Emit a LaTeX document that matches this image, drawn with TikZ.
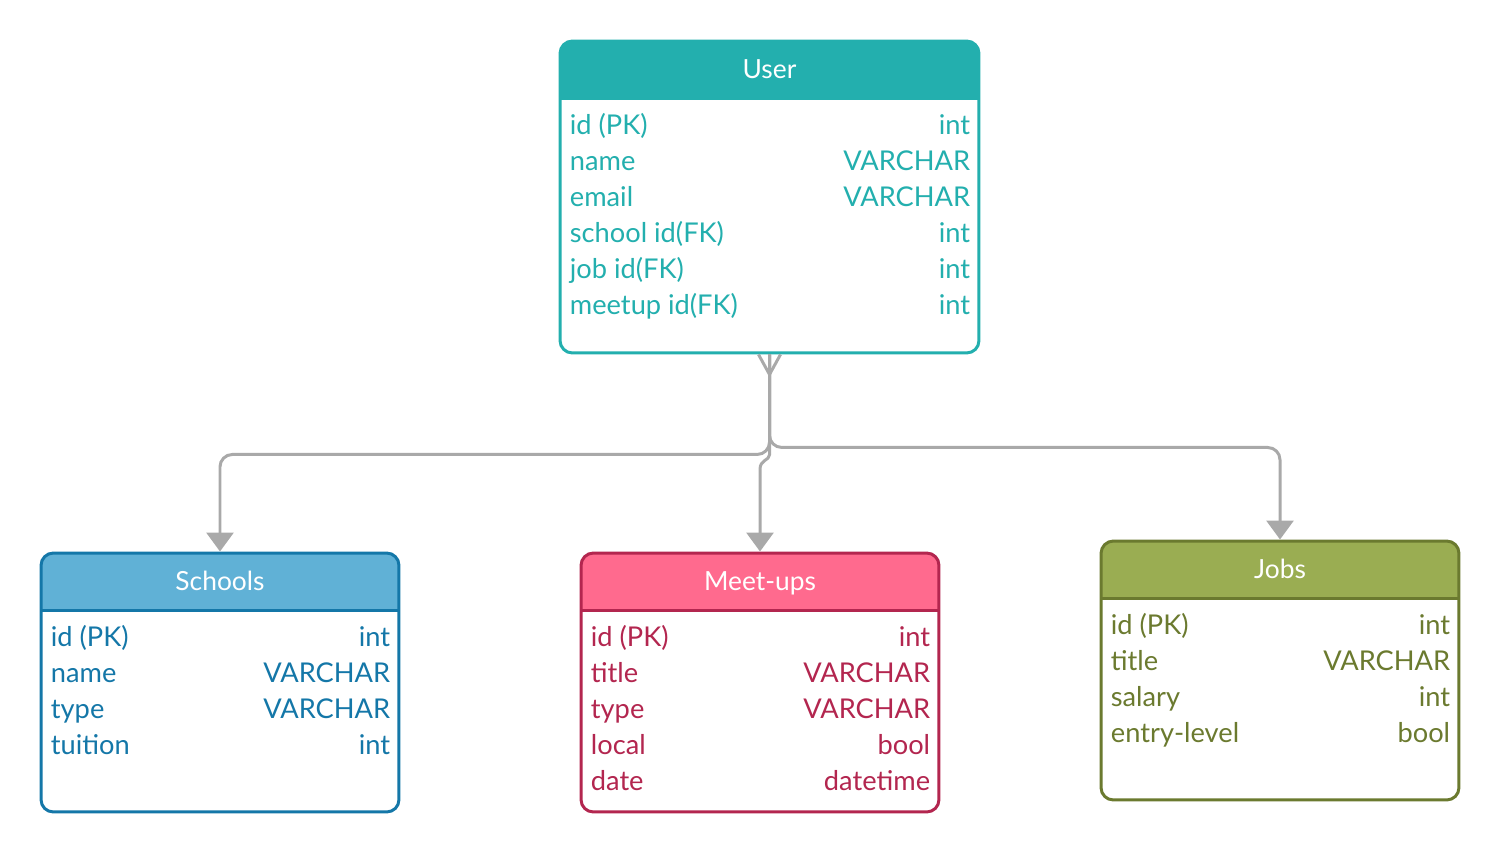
\documentclass[tikz,border=0pt]{standalone}
\usepackage{fontspec}
\setmainfont{Lato}
\usepackage{tikz}
\usetikzlibrary{arrows.meta,calc,positioning}

\definecolor{userteal}{HTML}{23AFAE}
\definecolor{schoolline}{HTML}{1477A8}
\definecolor{schoolhead}{HTML}{60B1D6}
\definecolor{meetline}{HTML}{B3264F}
\definecolor{meethead}{HTML}{FF6A8E}
\definecolor{jobline}{HTML}{6B7A2F}
\definecolor{jobhead}{HTML}{9AAD52}
\definecolor{linkgray}{HTML}{A9A9A9}

\tikzset{
	entity/.style n args={4}{draw=#1, line width=1.7pt, rounded corners=7pt, fill=white,
		minimum width=#3, minimum height=#4, inner sep=0pt,
		path picture={
			\fill[#2, sharp corners] (path picture bounding box.north west) rectangle ([yshift=-1.14cm]path picture bounding box.north east);
			\draw[#1, line width=1.7pt, sharp corners] ([yshift=-1.14cm]path picture bounding box.north west) -- ([yshift=-1.14cm]path picture bounding box.north east);
		}},
	title/.style={text=white, font=\fontsize{15}{17}\selectfont, text height=10.8pt, text depth=0pt, inner sep=0pt},
	field/.style={text=#1, font=\fontsize{15.5}{18}\selectfont, text height=11pt, text depth=0pt, inner sep=0pt},
	link/.style={draw=linkgray, line width=1.7pt, rounded corners=7pt},
}

\begin{document}
\begin{tikzpicture}[x=0.02cm,y=-0.02cm,>={Triangle[length=0.38cm,width=0.54cm]}]
	\useasboundingbox (0,0) rectangle (1500,853);

	% tables
	\node[entity={userteal}{userteal}{8.38cm}{6.24cm}] (user) at (769.5,197) {};
	\node[entity={schoolline}{schoolhead}{7.16cm}{5.18cm}] (schools) at (220,682.5) {};
	\node[entity={meetline}{meethead}{7.16cm}{5.18cm}] (meetups) at (760,682.5) {};
	\node[entity={jobline}{jobhead}{7.16cm}{5.18cm}] (jobs) at (1280,670.5) {};

	\node[title] (user-title) at ([yshift=-0.58cm]user.north) {User};
	\node[title] (schools-title) at ([yshift=-0.58cm]schools.north) {Schools};
	\node[title] (meetups-title) at ([yshift=-0.58cm]meetups.north) {Meet-ups};
	\node[title] (jobs-title) at ([yshift=-0.58cm]jobs.north) {Jobs};

	% fields
	\foreach \fname/\ftype [count=\i] in {id (PK)/int, name/VARCHAR, email/VARCHAR, school id(FK)/int, job id(FK)/int, meetup id(FK)/int} {
		\node[field=userteal, anchor=west] (user-n\i) at ($(user.north west)+(11,85+36*\i-36)$) {\fname};
		\node[field=userteal, anchor=east] (user-t\i) at ($(user.north east)+(-10,85+36*\i-36)$) {\ftype};
	}
	\foreach \fname/\ftype [count=\i] in {id (PK)/int, name/VARCHAR, type/VARCHAR, tuition/int} {
		\node[field=schoolline, anchor=west] (schools-n\i) at ($(schools.north west)+(11,85+36*\i-36)$) {\fname};
		\node[field=schoolline, anchor=east] (schools-t\i) at ($(schools.north east)+(-10,85+36*\i-36)$) {\ftype};
	}
	\foreach \fname/\ftype [count=\i] in {id (PK)/int, title/VARCHAR, type/VARCHAR, local/bool, date/datetime} {
		\node[field=meetline, anchor=west] (meetups-n\i) at ($(meetups.north west)+(11,85+36*\i-36)$) {\fname};
		\node[field=meetline, anchor=east] (meetups-t\i) at ($(meetups.north east)+(-10,85+36*\i-36)$) {\ftype};
	}
	\foreach \fname/\ftype [count=\i] in {id (PK)/int, title/VARCHAR, salary/int, entry-level/bool} {
		\node[field=jobline, anchor=west] (jobs-n\i) at ($(jobs.north west)+(11,85+36*\i-36)$) {\fname};
		\node[field=jobline, anchor=east] (jobs-t\i) at ($(jobs.north east)+(-10,85+36*\i-36)$) {\ftype};
	}

	% relations
	\coordinate (fork) at ($(user.south)+(0,20)$);
	\draw[link, rounded corners=0pt] ([xshift=-0.22cm]user.south) -- (fork) -- ([xshift=0.22cm]user.south);
	\draw[link,->] (user.south) -- ++(0,100) -| (schools.north);
	\draw[link,->] (user.south) -- ++(0,93) -| (jobs.north);
	\draw[link,->] (user.south) -- ++(0,88) .. controls +(0,18) and +(0,-22) .. ($(meetups.north)+(0,-70)$) -- (meetups.north);
\end{tikzpicture}
\end{document}
